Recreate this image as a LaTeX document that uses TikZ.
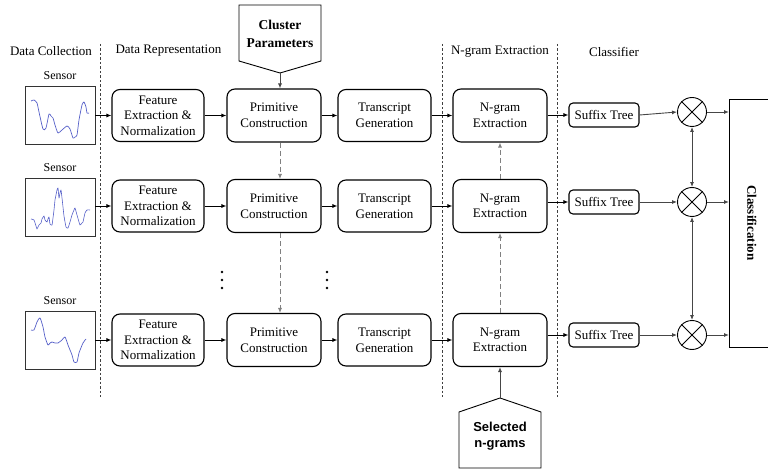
\documentclass[tikz,border=0pt]{standalone}
\usepackage{fontspec}
\setmainfont{Liberation Serif}
\newfontfamily\boldsans{Liberation Sans}
\usetikzlibrary{arrows.meta,calc}
\definecolor{sig}{RGB}{85,95,200}
\definecolor{dgray}{RGB}{70,70,70}
\begin{document}
\begin{tikzpicture}[x=1pt,y=-1pt,
  font=\fontsize{13}{15.6}\selectfont,
  >={Latex[length=5pt,width=4pt]},
  procbox/.style={draw,line width=1.1pt,rounded corners=8pt,minimum width=92pt,minimum height=52pt,align=center,inner sep=0pt},
  sufbox/.style={draw,line width=1.1pt,rounded corners=4pt,minimum width=70pt,minimum height=24pt,inner sep=0pt},
  sensbox/.style={draw,line width=0.9pt,draw=black!80,minimum width=70pt,minimum height=58pt,inner sep=0pt},
  senslabel/.style={font=\fontsize{12}{14}\selectfont},
  mult/.style={draw,circle,line width=0.9pt,minimum size=29pt,inner sep=0pt},
  flow/.style={->,line width=0.9pt},
  grayflow/.style={->,line width=0.9pt,draw=dgray},
  dflow/.style={->,line width=0.8pt,draw=gray,dash pattern=on 5pt off 3pt},
  sep/.style={line width=0.8pt,draw=black!75,dash pattern=on 2.5pt off 2pt},
  head/.style={anchor=center},
  signal/.style={draw=sig,line width=0.7pt,line join=round}
]
\useasboundingbox (0,0) rectangle (768,470);

% section separators
\draw[sep] (100,44) -- (100,397);
\draw[sep] (442,44) -- (442,397);
\draw[sep] (557,44) -- (557,397);

% headers
\node[head] (hdc) at (51,51) {Data Collection};
\node[head,anchor=west] (hdr) at (112,51) {Data Representation};
\node[head] (hng) at (500,52) {N-gram Extraction};
\node[head] (hcl) at (614,52) {Classifier};

% sensors
\node[sensbox] (s1) at (60,115) {};
\node[sensbox] (s2) at (60,207) {};
\node[sensbox] (s3) at (60,340.5) {};
\node[senslabel] (sl1) at (60,76) {Sensor};
\node[senslabel] (sl2) at (60,168) {Sensor};
\node[senslabel] (sl3) at (60,301) {Sensor};

\draw[signal] plot[smooth,tension=0.4] coordinates {(31,101) (34,100) (37,103) (39,112) (43,129) (46,128) (49,114) (51,116) (53,118) (55,125) (58,133) (62,130) (67,126) (70,129) (73,138) (75,137) (77,135) (79,120) (82,105) (84,102) (86,107) (87,113) (89,113)};
\draw[signal,line width=0.6pt] plot[smooth,tension=0.3] coordinates {(31,219) (34,220) (36,226) (37,229) (39,225) (41,223) (42,219) (44,216) (45,220) (47,222) (48,219) (49,217) (50,224) (52,225) (53,218) (54,210) (55,200) (56,195) (57,190) (58,188) (59,198) (60,193) (61,190) (62,198) (63,207) (64,216) (66,227) (68,228) (70,222) (72,215) (74,210) (75,208) (77,215) (79,222) (80,225) (82,223) (83,222) (85,213) (87,210) (90,210)};
\draw[signal] plot[smooth,tension=0.4] coordinates {(31,330) (34,330) (37,322) (40,318) (43,327) (45,337) (48,345) (50,343) (52,342) (55,343) (58,343) (62,340) (65,337) (68,345) (72,355) (74,362) (77,362) (79,353) (83,343) (86,339)};

% processing boxes
\foreach \r/\y in {1/115.5,2/206,3/340}{
  \node[procbox] (fe\r) at (158,\y) {Feature\\Extraction \&\\Normalization};
  \node[procbox,minimum width=94pt,minimum height=53pt] (pc\r) at (274,\y) {Primitive\\Construction};
  \node[procbox,minimum width=93pt] (tg\r) at (384.5,\y) {Transcript\\Generation};
  \node[procbox,minimum width=94pt,minimum height=53pt] (ng\r) at (500,\y) {N-gram\\Extraction};
}
\node[sufbox] (st1) at (604,115) {Suffix Tree};
\node[sufbox] (st2) at (604,202) {Suffix Tree};
\node[sufbox] (st3) at (604,335) {Suffix Tree};

\node[mult] (m1) at (692,112) {};
\node[mult] (m2) at (692,202) {};
\node[mult] (m3) at (692,335) {};
\foreach \m in {m1,m2,m3}{
  \draw[line width=0.8pt] (\m.north east) -- (\m.south west);
  \draw[line width=0.8pt] (\m.north west) -- (\m.south east);
}

% classification
\draw[line width=0.9pt] (729,99) rectangle (800,347);
\node[font=\fontsize{13}{15.6}\selectfont\bfseries,rotate=-90] (cls) at (752,223) {Classification};
\coordinate (clsw) at (729,223);

% horizontal flows
\foreach \r in {1,2,3}{
  \draw[flow] (s\r.east |- fe\r) -- (fe\r.west);
  \draw[flow] (fe\r) -- (pc\r);
  \draw[flow] (pc\r) -- (tg\r);
  \draw[flow] (tg\r) -- (ng\r);
  \draw[flow] (ng\r.east |- st\r) -- (st\r.west);
  \draw[grayflow] (st\r.east) -- (m\r.west);
  \draw[grayflow] (m\r.east) -- (clsw |- m\r);
}

% vertical links
\draw[dflow] ([xshift=6pt]pc1.south) -- ([xshift=6pt]pc2.north);
\draw[dflow] ([xshift=6pt]pc2.south) -- ([xshift=6pt]pc3.north);
\draw[dflow] (ng2.north) -- (ng1.south);
\draw[dflow] (ng3.north) -- (ng2.south);
\draw[grayflow,<->] (m1.south) -- (m2.north);
\draw[grayflow,<->] (m2.south) -- (m3.north);

% ellipsis dots
\foreach \x in {222,327}{
  \foreach \yy in {272,280,288}{
    \fill (\x,\yy) circle (1.3pt);
  }
}

% cluster parameters pentagon
\draw[line width=0.9pt] (239,5) -- (321,5) -- (321,61) -- (280,73) -- (239,61) -- cycle;
\coordinate (cptip) at (280,73);
\node[align=center,font=\fontsize{13.5}{18}\selectfont\bfseries] (cp) at (280,34) {Cluster\\Parameters};
\draw[grayflow] (cptip) -- ([xshift=6pt]pc1.north);

% selected n-grams pentagon
\draw[line width=0.9pt] (459,468) -- (541,468) -- (541,412) -- (500,398) -- (459,412) -- cycle;
\coordinate (sntip) at (500,398);
\node[align=center,font=\boldsans\fontsize{13}{16.5}\selectfont\bfseries] (sn) at (500,436) {Selected\\n-grams};
\draw[grayflow] (sntip) -- (ng3.south);
\end{tikzpicture}
\end{document}
